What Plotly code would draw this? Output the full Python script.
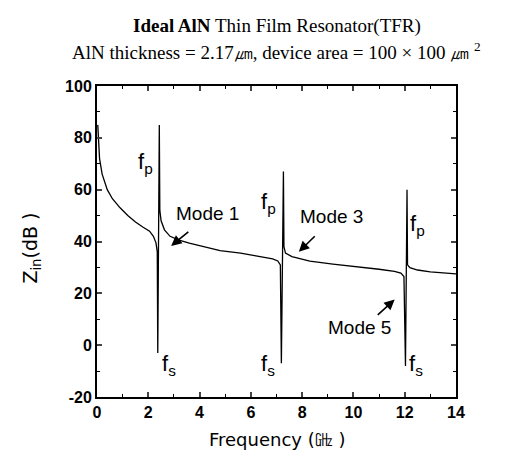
import plotly.graph_objects as go

freq_ghz = [0.03, 0.1, 0.2, 0.4, 0.6, 0.9, 1.2, 1.5, 1.8, 2.05, 2.2, 2.3, 2.35, 2.37,
            2.43, 2.45, 2.5, 2.63, 2.85, 3.2, 3.6, 4.2, 4.8, 5.6, 6.3, 6.85, 7.05, 7.15,
            7.19, 7.27, 7.29, 7.35, 7.6, 8.3, 9.2, 10.2, 11.0, 11.6, 11.85, 11.97,
            12.03, 12.09, 12.11, 12.2, 12.5, 13.0, 13.5, 14.0]
zin_db = [85, 72, 66, 60, 56.5, 53, 50, 47.5, 45.5, 44, 42, 39.5, 36, -3,
          85, 52, 48, 44.5, 42, 40.5, 39.4, 37.8, 36.5, 35.5, 34.3, 33.3, 32.5, 31,
          -7, 67, 38, 35.5, 34.2, 32.4, 31.3, 30.3, 29.3, 28.5, 27.8, 26.5,
          -8, 60, 31, 29.9, 29, 28.3, 27.8, 27.5]

x_ticks = [0, 2, 4, 6, 8, 10, 12, 14]
x_tick_labels = ["0", "2", "4", "6", "8", "10", "12", "14"]
y_ticks = [-20, 0, 20, 40, 60, 80, 100]
y_tick_labels = ["-20", "0", "20", "40", "60", "80", "100"]

mode_labels = ["Mode 1", "Mode 3", "Mode 5"]
mode_text_pos = [(4.31, 50.7), (9.14, 49.7), (10.24, 7.0)]
mode_arrow_tail = [(3.62, 44.2), (8.55, 42.6), (10.89, 11.2)]
mode_arrow_head = [(2.89, 38.3), (7.87, 36.0), (11.61, 17.6)]
fp_pos = [(1.91, 70.3), (6.7, 54.9), (12.48, 46.4)]
fs_pos = [(2.81, -7.6), (6.65, -7.6), (12.44, -7.6)]

fig = go.Figure()
fig.add_trace(go.Scatter(x=freq_ghz, y=zin_db, mode="lines",
                         line=dict(color="black", width=1.3), showlegend=False))

sans = "Liberation Sans, Arial, sans-serif"
wide = "DejaVu Sans, Liberation Sans, sans-serif"
serif = "Liberation Serif, Times New Roman, serif"

ann = []
for lab, (tx, ty), (ax_, ay_), (hx, hy) in zip(mode_labels, mode_text_pos, mode_arrow_tail, mode_arrow_head):
    ann.append(dict(x=tx, y=ty, xref="x", yref="y", text=lab, showarrow=False,
                    font=dict(family=sans, size=19, color="#000")))
    ann.append(dict(x=hx, y=hy, ax=ax_, ay=ay_, xref="x", yref="y", axref="x", ayref="y",
                    text="", showarrow=True, arrowhead=2, arrowsize=1.3, arrowwidth=1.6,
                    arrowcolor="black"))
for (px, py) in fp_pos:
    ann.append(dict(x=px, y=py, xref="x", yref="y", text="f<sub>p</sub>", showarrow=False,
                    font=dict(family=sans, size=22, color="#000")))
for (px, py) in fs_pos:
    ann.append(dict(x=px, y=py, xref="x", yref="y", text="f<sub>s</sub>", showarrow=False,
                    font=dict(family=sans, size=22, color="#000")))

# titles
ann.append(dict(x=0.5, y=1.193, xref="paper", yref="paper", xanchor="center", yanchor="middle",
                text="<b>Ideal AlN</b> Thin Film Resonator(TFR)", showarrow=False,
                font=dict(family=serif, size=19, color="#000")))
ann.append(dict(x=0.5, y=1.1125, xref="paper", yref="paper", xanchor="center", yanchor="middle",
                text="AlN thickness = 2.17㎛, device area = 100 × 100 ㎛ <sup>2</sup>",
                showarrow=False, font=dict(family=serif, size=19, color="#000")))
# axis titles
ann.append(dict(x=0.501, y=-0.136, xref="paper", yref="paper", xanchor="center", yanchor="middle",
                text="Frequency (㎓ )", showarrow=False,
                font=dict(family=wide, size=18, color="#000")))
ann.append(dict(x=-0.185, y=0.479, xref="paper", yref="paper", xanchor="center", yanchor="middle",
                text="Z<sub>in</sub>(dB )", showarrow=False, textangle=-90,
                font=dict(family=wide, size=19, color="#000")))

fig.update_layout(
    width=507, height=453,
    margin=dict(l=89, r=59, t=78, b=64),
    paper_bgcolor="white", plot_bgcolor="white",
    annotations=ann,
    xaxis=dict(range=[0, 14], tickvals=x_ticks, ticktext=x_tick_labels,
               ticks="inside", ticklen=5, tickwidth=1.5,
               showline=True, linewidth=2, linecolor="black", mirror="allticks",
               showgrid=False, zeroline=False,
               minor=dict(dtick=1, ticks="inside", ticklen=3, tickwidth=1.2, tickcolor="black"),
               tickfont=dict(family=sans, size=16, color="#000", weight="bold")),
    yaxis=dict(range=[-20, 100], tickvals=y_ticks, ticktext=y_tick_labels,
               ticks="inside", ticklen=5, tickwidth=1.5,
               showline=True, linewidth=2, linecolor="black", mirror="allticks",
               showgrid=False, zeroline=False,
               minor=dict(dtick=10, ticks="inside", ticklen=3, tickwidth=1.2, tickcolor="black"),
               tickfont=dict(family=sans, size=16, color="#000", weight="bold")),
)

fig.write_html("out.html")
